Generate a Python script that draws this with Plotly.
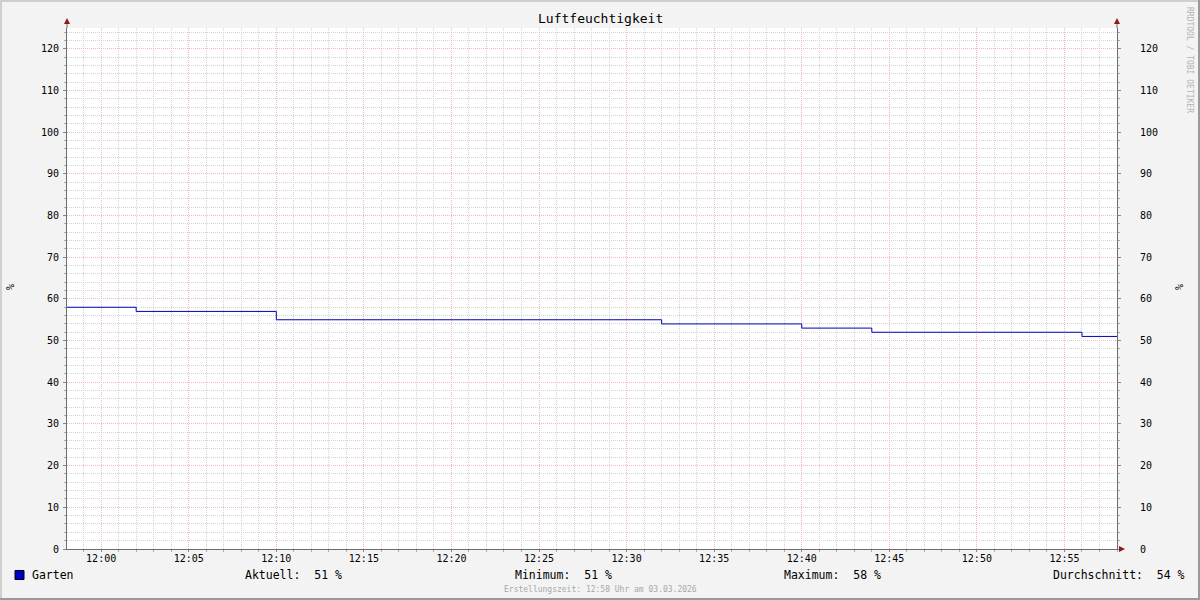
import plotly.graph_objects as go

# Step series: humidity value valid from each timestamp onward
times = ["2026-03-03 11:58:03", "2026-03-03 12:02:00", "2026-03-03 12:10:00",
         "2026-03-03 12:32:00", "2026-03-03 12:40:00", "2026-03-03 12:44:00",
         "2026-03-03 12:56:00", "2026-03-03 12:58:00"]
humidity = [58, 57, 55, 54, 53, 52, 51, 51]

series_name = "Garten"
stat_labels = ["Aktuell:", "Minimum:", "Maximum:", "Durchschnitt:"]
stat_values = [51, 51, 58, 54]
unit = "%"
title = "Luftfeuchtigkeit"
footer = "Erstellungszeit: 12:58 Uhr am 03.03.2026"
watermark = "RRDTOOL / TOBI OETIKER"

W, H = 1200, 600
L, R, T, B = 67, 83, 28, 51
PW, PH = W - L - R, H - T - B
MONO = "DejaVu Sans Mono"


def px(x):
    return (x - L) / PW


def py(y):
    return (H - B - y) / PH


def label(text, x, y, size, color="#000000", xanchor="center", angle=0):
    fig.add_annotation(text=text, xref="paper", yref="paper", x=px(x), y=py(y),
                       xanchor=xanchor, yanchor="middle", showarrow=False, textangle=angle,
                       font=dict(family=MONO, size=size, color=color))


fig = go.Figure()
fig.add_trace(go.Scatter(
    x=times, y=humidity, mode="lines", line=dict(color="#0000B4", width=1, shape="hv"),
    showlegend=False, hoverinfo="skip"
))
# invisible trace to activate right axis
fig.add_trace(go.Scatter(x=times[:1], y=humidity[:1], yaxis="y2", mode="markers",
                         marker=dict(opacity=0), showlegend=False, hoverinfo="skip"))

grid_major = "#EBBCBC"
grid_minor = "#D4D4D4"
yax = dict(
    range=[0, 125], dtick=10, tick0=0, showgrid=True, gridcolor=grid_major, griddash="1px,1px",
    gridwidth=1, zeroline=False, showline=True, linecolor="#6E6E6E", linewidth=1,
    ticks="outside", ticklen=3, tickcolor="#888888",
    tickfont=dict(family=MONO, size=10, color="#000000"),
    minor=dict(dtick=2, showgrid=True, gridcolor=grid_minor, griddash="1px,1px",
               ticks="outside", ticklen=2, tickcolor="#AAAAAA"),
    fixedrange=True,
)

fig.update_layout(
    width=W, height=H,
    margin=dict(l=L, r=R, t=T, b=B),
    paper_bgcolor="#F3F3F3", plot_bgcolor="#FFFFFF",
    font=dict(family=MONO, size=10, color="#000000"),
    xaxis=dict(
        type="date", range=[times[0], times[-1]], tickformat="%H:%M",
        tick0="2026-03-03 12:00:00", dtick=300000,
        showgrid=True, gridcolor=grid_major, griddash="1px,1px", zeroline=False,
        showline=True, linecolor="#6E6E6E", linewidth=1,
        ticks="outside", ticklen=2, tickcolor="#888888", ticklabelstandoff=-2,
        tickfont=dict(family=MONO, size=10, color="#000000"),
        minor=dict(dtick=60000, showgrid=True, gridcolor=grid_minor, griddash="1px,1px",
                   ticks="outside", ticklen=2, tickcolor="#AAAAAA"),
        fixedrange=True,
    ),
    yaxis=dict(**yax, ticklabelstandoff=2),
    yaxis2=dict(**yax, overlaying="y", side="right", ticklabelstandoff=17),
)
fig.update_layout(yaxis2=dict(showgrid=False, minor=dict(showgrid=False)))

# outer frame
fig.add_shape(type="line", xref="paper", yref="paper", x0=px(1), x1=px(1), y0=py(0), y1=py(H),
              line=dict(color="#CFCFCF", width=2))
fig.add_shape(type="line", xref="paper", yref="paper", x0=px(0), x1=px(W), y0=py(1), y1=py(1),
              line=dict(color="#CFCFCF", width=2))
fig.add_shape(type="line", xref="paper", yref="paper", x0=px(W - 1), x1=px(W - 1), y0=py(0), y1=py(H),
              line=dict(color="#9A9A9A", width=2))
fig.add_shape(type="line", xref="paper", yref="paper", x0=px(0), x1=px(W), y0=py(H - 1), y1=py(H - 1),
              line=dict(color="#9A9A9A", width=2))

# axis extensions and arrows
for xa in (0, 1):
    fig.add_shape(type="line", xref="paper", yref="paper", x0=xa, x1=xa, y0=1, y1=py(T - 5),
                  line=dict(color="#6E6E6E", width=1))
    fig.add_shape(type="path", xref="paper", yref="paper", xsizemode="pixel", ysizemode="pixel",
                  xanchor=xa, yanchor=py(T - 4), path="M -3 0 L 3 0 L 0 6 Z",
                  fillcolor="#8B1A1A", line=dict(width=0))
fig.add_shape(type="path", xref="paper", yref="paper", xsizemode="pixel", ysizemode="pixel",
              xanchor=px(L + PW + 2), yanchor=0, path="M 0 -3 L 0 3 L 6 0 Z",
              fillcolor="#8B1A1A", line=dict(width=0))

label(title, 600, 19, 13)
for xpos in (10, 1179):
    label(unit, xpos, 287, 10, angle=-90)
label(watermark, 1190, 60, 8, color="#B4B4B4", angle=90)

# legend row
fig.add_shape(type="rect", xref="paper", yref="paper", xsizemode="pixel", ysizemode="pixel",
              xanchor=px(15), yanchor=py(575), x0=0, x1=9, y0=-4.5, y1=4.5,
              fillcolor="#0000CC", line=dict(color="#000000", width=1))
label(series_name, 30, 575, 11.5, xanchor="left")
stat_x = [243, 513, 782, 1051]
for sx, lab, val in zip(stat_x, stat_labels, stat_values):
    label(f"{lab}  {val} {unit}".replace(" ", "\u00a0"), sx, 575, 11.5, xanchor="left")
label(footer, 600, 589, 8, color="#A8A8A8")

fig.write_html("out.html", config={"displayModeBar": False},
               post_script="document.body.style.margin='0';document.body.style.overflow='hidden';")
